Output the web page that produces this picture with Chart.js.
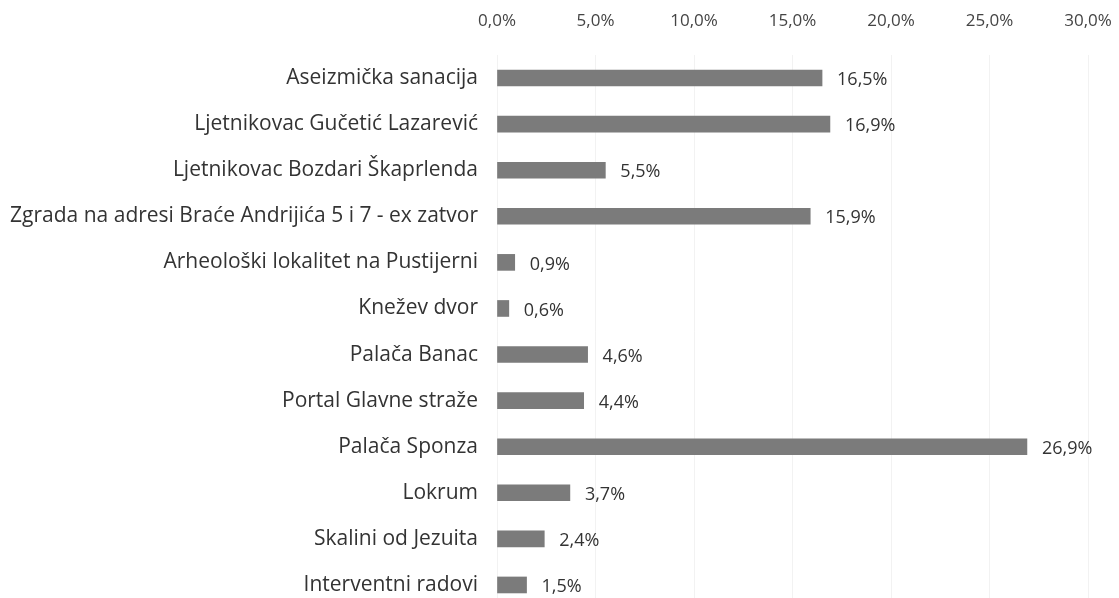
<!DOCTYPE html>
<html lang="hr">
<head>
<meta charset="UTF-8"/>
<title>Udjeli po projektima</title>
<script src="https://cdn.jsdelivr.net/npm/chart.js@4.4.1/dist/chart.umd.min.js"></script>
<style>
  html, body { margin: 0; padding: 0; background: #fff; overflow: hidden; }
  canvas { display: block; }
</style>
</head>
<body>
<canvas id="chart" width="1119" height="612"></canvas>
<script>
const categories = [
  'Aseizmička sanacija',
  'Ljetnikovac Gučetić Lazarević',
  'Ljetnikovac Bozdari Škaprlenda',
  'Zgrada na adresi Braće Andrijića 5 i 7 - ex zatvor',
  'Arheološki lokalitet na Pustijerni',
  'Knežev dvor',
  'Palača Banac',
  'Portal Glavne straže',
  'Palača Sponza',
  'Lokrum',
  'Skalini od Jezuita',
  'Interventni radovi'
];
const shares = [16.5, 16.9, 5.5, 15.9, 0.9, 0.6, 4.6, 4.4, 26.9, 3.7, 2.4, 1.5];
const axisMin = 0, axisMax = 30, axisStep = 5;

const fmt = v => v.toFixed(1).replace('.', ',') + '%';
const FONT = '"Open Sans", sans-serif';

// value labels at the end of each bar
const valueLabels = {
  id: 'valueLabels',
  afterDatasetsDraw(chart) {
    const ctx = chart.ctx;
    const meta = chart.getDatasetMeta(0);
    ctx.save();
    ctx.font = '18px ' + FONT;
    ctx.fillStyle = '#333';
    ctx.textAlign = 'left';
    ctx.textBaseline = 'middle';
    meta.data.forEach((bar, i) => {
      ctx.fillText(fmt(shares[i]), bar.x + 15, bar.y + 2);
    });
    ctx.restore();
  }
};

// fixed axis sizes, no extra label padding, so the plot area lands where the original has it
const noPad = s => { s.paddingLeft = s.paddingRight = s.paddingTop = s.paddingBottom = 0; };

new Chart(document.getElementById('chart'), {
  type: 'bar',
  data: {
    labels: categories,
    datasets: [{
      data: shares,
      backgroundColor: '#7b7b7b',
      barThickness: 16
    }]
  },
  options: {
    indexAxis: 'y',
    responsive: false,
    animation: false,
    layout: { padding: { left: 7, right: 31, top: 5, bottom: 4 } },
    plugins: { legend: { display: false }, tooltip: { enabled: false } },
    scales: {
      x: {
        position: 'top',
        min: axisMin,
        max: axisMax,
        afterFit: s => { s.height = 50; noPad(s); },
        ticks: {
          stepSize: axisStep,
          callback: v => fmt(v),
          color: '#444',
          font: { family: FONT, size: 17 },
          padding: 24,
          maxRotation: 0
        },
        grid: { color: 'rgba(0,0,0,0.05)', drawTicks: false },
        border: { display: false }
      },
      y: {
        afterFit: s => { s.width = 490; noPad(s); },
        ticks: {
          color: '#333',
          font: { family: FONT, size: 21 },
          padding: 11
        },
        grid: { display: false },
        border: { display: false }
      }
    }
  },
  plugins: [valueLabels]
});
</script>
</body>
</html>
